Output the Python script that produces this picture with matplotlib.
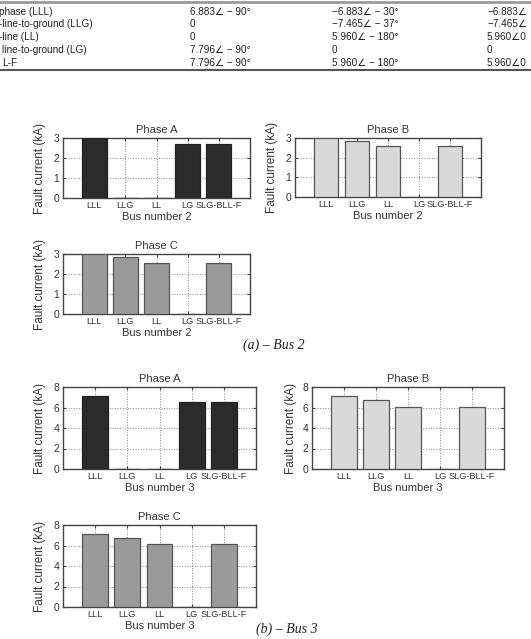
import matplotlib
matplotlib.use('Agg')
import matplotlib.pyplot as plt
from matplotlib.lines import Line2D

plt.rcParams['font.family'] = ['Liberation Sans', 'DejaVu Sans']

# data
faults = ['LLL', 'LLG', 'LL', 'LG', 'SLG-BLL-F']
bus2_a = [3.0, 0, 0, 2.68, 2.68]
bus2_b = [3.0, 2.85, 2.58, 0, 2.58]
bus2_c = [3.0, 2.85, 2.57, 0, 2.57]
bus3_a = [7.08, 0, 0, 6.55, 6.55]
bus3_b = [7.08, 6.77, 6.08, 0, 6.08]
bus3_c = [7.08, 6.78, 6.1, 0, 6.1]

# table fragment at the top (cut at both page edges)
tab_col1 = ['phase (LLL)', '-line-to-ground (LLG)', '-line (LL)', 'line-to-ground (LG)', 'L-F']
tab_col2 = ['6.883\u2220 \u2212 90\u00b0', '0', '0', '7.796\u2220 \u2212 90\u00b0', '7.796\u2220 \u2212 90\u00b0']
tab_col3 = ['\u22126.883\u2220 \u2212 30\u00b0', '\u22127.465\u2220 \u2212 37\u00b0', '5.960\u2220 \u2212 180\u00b0', '0',
            '5.960\u2220 \u2212 180\u00b0']
tab_col4 = ['\u22126.883\u2220', '\u22127.465\u2220', '5.960\u22200', '0', '5.960\u22200']

W, H = 531, 639
fig = plt.figure(figsize=(W / 100, H / 100), dpi=100)

txt = '#333333'
colors = {'A': ('#2b2b2b', '#222222'), 'B': ('#d9d9d9', '#555555'), 'C': ('#9a9a9a', '#555555')}


def rect(l, t, r, b):
    return [l / W, 1 - b / H, (r - l) / W, (b - t) / H]


def draw(box, vals, phase, bus, ymax, yticks, ylab_off):
    ax = fig.add_axes(rect(*box))
    fc, ec = colors[phase]
    x = range(1, len(faults) + 1)
    ax.bar(x, vals, width=0.8, color=fc, edgecolor=ec, linewidth=0.9, zorder=3)
    ax.set_xlim(0, 6)
    ax.set_ylim(0, ymax)
    ax.set_xticks(list(x))
    ax.set_xticklabels(faults, fontsize=6.6, color=txt)
    ax.set_yticks(yticks)
    ax.set_yticklabels([str(v) for v in yticks], fontsize=7.5, color=txt)
    ax.tick_params(direction='in', length=2, top=True, right=True, pad=2.5, color='#444444')
    ax.grid(True, linestyle=':', color='#888888', linewidth=0.7, zorder=0)
    for s in ax.spines.values():
        s.set_color('#444444')
        s.set_linewidth(1.0)
    ax.set_title('Phase ' + phase, fontsize=8, color=txt, pad=3.5)
    ax.set_xlabel('Bus number %d' % bus, fontsize=8, color=txt, labelpad=1)
    ax.set_ylabel('Fault current (kA)', fontsize=8.5, color=txt)
    ax.yaxis.set_label_coords(-ylab_off / (box[2] - box[0]), 0.5)
    return ax


draw((63, 138, 250, 198), bus2_a, 'A', 2, 3, [0, 1, 2, 3], 17)
draw((295, 138, 481, 197), bus2_b, 'B', 2, 3, [0, 1, 2, 3], 17)
draw((63, 254, 250, 314), bus2_c, 'C', 2, 3, [0, 1, 2, 3], 17)
draw((63, 387, 256, 469), bus3_a, 'A', 3, 8, [0, 2, 4, 6, 8], 17)
draw((312, 387, 504, 469), bus3_b, 'B', 3, 8, [0, 2, 4, 6, 8], 15)
draw((63, 525, 256, 607), bus3_c, 'C', 3, 8, [0, 2, 4, 6, 8], 17)

# captions
fig.text(274 / W, 1 - 345 / H, '(a) \u2013 Bus 2', fontsize=10, family='Liberation Serif', style='italic',
         ha='center', va='center', color='#222222')
fig.text(287 / W, 1 - 629 / H, '(b) \u2013 Bus 3', fontsize=10, family='Liberation Serif', style='italic',
         ha='center', va='center', color='#222222')

# table rules
fig.add_artist(Line2D([0, 1], [1 - 1.5 / H, 1 - 1.5 / H], color='#999999', linewidth=2.0))
fig.add_artist(Line2D([0, 1], [1 - 70 / H, 1 - 70 / H], color='#555555', linewidth=1.5))

row_y = [12, 24, 37, 50, 63]
col_x = [-1, 190, 332, 487]
for i, y in enumerate(row_y):
    for cx, col in zip(col_x, [tab_col1, tab_col2, tab_col3, tab_col4]):
        xx = cx
        if cx < 0 and i >= 3:
            xx = 2
        fig.text(xx / W, 1 - y / H, col[i], fontsize=7.2, color='#222222', ha='left', va='center')

fig.savefig('out.png', dpi=100)
